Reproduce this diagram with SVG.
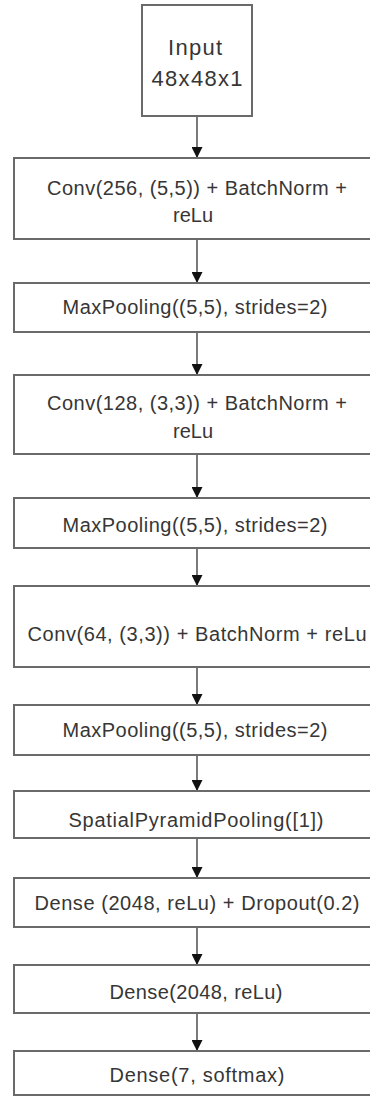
<svg xmlns="http://www.w3.org/2000/svg" width="370" height="1096" viewBox="0 0 370 1096">
<style>
.box{fill:#ffffff;stroke:#6a6a6a;stroke-width:2}
.t{font-family:"Liberation Sans",Arial,sans-serif;font-size:20px;fill:#363636;text-anchor:middle}
.in{font-size:22px}
.c{stroke:#222;stroke-width:1.2;fill:none}
</style>
<defs>
<marker id="ah" viewBox="0 0 10 10" refX="10" refY="5" markerWidth="11" markerHeight="11" markerUnits="userSpaceOnUse" orient="auto">
<path d="M0,0 L10,5 L0,10 z" fill="#111"/>
</marker>
</defs>
<rect width="370" height="1096" fill="#ffffff"/>
<g id="connectors">
<line class="c" x1="197" y1="116" x2="197" y2="158" marker-end="url(#ah)"/>
<line class="c" x1="197" y1="239" x2="197" y2="283" marker-end="url(#ah)"/>
<line class="c" x1="197" y1="332" x2="197" y2="375" marker-end="url(#ah)"/>
<line class="c" x1="197" y1="454" x2="197" y2="498" marker-end="url(#ah)"/>
<line class="c" x1="197" y1="548" x2="197" y2="586" marker-end="url(#ah)"/>
<line class="c" x1="197" y1="667" x2="197" y2="705" marker-end="url(#ah)"/>
<line class="c" x1="197" y1="755" x2="197" y2="791" marker-end="url(#ah)"/>
<line class="c" x1="197" y1="838" x2="197" y2="878" marker-end="url(#ah)"/>
<line class="c" x1="197" y1="927" x2="197" y2="965" marker-end="url(#ah)"/>
<line class="c" x1="197" y1="1013" x2="197" y2="1051" marker-end="url(#ah)"/>
</g>
<g id="input">
<rect class="box" x="142" y="5" width="110" height="111"/>
<text class="t in" x="195" y="55" textLength="54">Input</text>
<text class="t in" x="197" y="86" textLength="91">48x48x1</text>
</g>
<g id="conv1">
<rect class="box" x="14" y="158" width="366" height="81"/>
<text class="t" x="197" y="195" textLength="300">Conv(256, (5,5)) + BatchNorm +</text>
<text class="t" x="193" y="222" textLength="40">reLu</text>
</g>
<g id="maxpool1">
<rect class="box" x="14" y="283" width="366" height="49"/>
<text class="t" x="195" y="314" textLength="265">MaxPooling((5,5), strides=2)</text>
</g>
<g id="conv2">
<rect class="box" x="14" y="375" width="366" height="79"/>
<text class="t" x="197" y="410" textLength="300">Conv(128, (3,3)) + BatchNorm +</text>
<text class="t" x="193" y="438" textLength="40">reLu</text>
</g>
<g id="maxpool2">
<rect class="box" x="14" y="498" width="366" height="50"/>
<text class="t" x="195" y="532" textLength="265">MaxPooling((5,5), strides=2)</text>
</g>
<g id="conv3">
<rect class="box" x="14" y="586" width="366" height="81"/>
<text class="t" x="197" y="641" textLength="339">Conv(64, (3,3)) + BatchNorm + reLu</text>
</g>
<g id="maxpool3">
<rect class="box" x="14" y="705" width="366" height="50"/>
<text class="t" x="195" y="737" textLength="265">MaxPooling((5,5), strides=2)</text>
</g>
<g id="spp">
<rect class="box" x="14" y="791" width="366" height="47"/>
<text class="t" x="196" y="827" textLength="255">SpatialPyramidPooling([1])</text>
</g>
<g id="dense1">
<rect class="box" x="14" y="878" width="366" height="49"/>
<text class="t" x="197" y="910" textLength="325">Dense (2048, reLu) + Dropout(0.2)</text>
</g>
<g id="dense2">
<rect class="box" x="14" y="965" width="366" height="48"/>
<text class="t" x="196" y="999" textLength="173">Dense(2048, reLu)</text>
</g>
<g id="dense3">
<rect class="box" x="14" y="1051" width="366" height="44"/>
<text class="t" x="197" y="1082" textLength="175">Dense(7, softmax)</text>
</g>
</svg>
